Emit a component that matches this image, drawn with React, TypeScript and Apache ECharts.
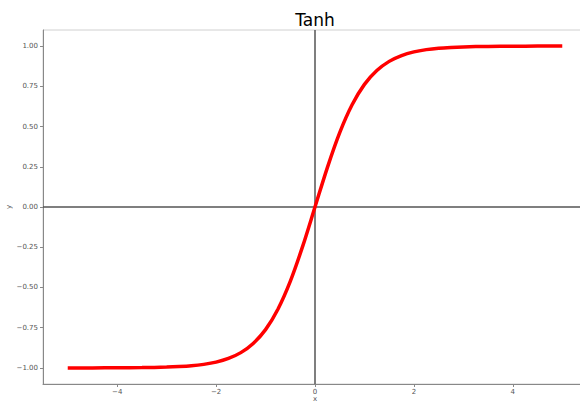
import React, { useEffect, useRef } from "react";
import * as echarts from "echarts";

const xValues = [-5, -4.5, -4, -3.5, -3, -2.75, -2.5, -2.25, -2, -1.75, -1.5, -1.25, -1, -0.75, -0.5, -0.25, 0, 0.25, 0.5, 0.75, 1, 1.25, 1.5, 1.75, 2, 2.25, 2.5, 2.75, 3, 3.5, 4, 4.5, 5];
const yValues = [-1.0, -1.0, -0.999, -0.998, -0.995, -0.992, -0.987, -0.978, -0.964, -0.941, -0.905, -0.848, -0.762, -0.635, -0.462, -0.245, 0, 0.245, 0.462, 0.635, 0.762, 0.848, 0.905, 0.941, 0.964, 0.978, 0.987, 0.992, 0.995, 0.998, 0.999, 1.0, 1.0];
const xTicks = [-4, -2, 0, 2, 4];
const yTicks = [-1, -0.75, -0.5, -0.25, 0, 0.25, 0.5, 0.75, 1];

const fmt = (v: number, d: number) => {
  const s = Math.abs(v).toFixed(d);
  return v < 0 ? "\u2212" + s : s;
};

export default function App() {
  const ref = useRef<HTMLDivElement>(null);
  useEffect(() => {
    if (!ref.current) return;
    const chart = echarts.init(ref.current, undefined, { renderer: "svg" });
    const font = "DejaVu Sans";
    chart.setOption({
      animation: false,
      backgroundColor: "#ffffff",
      graphic: [
        {
          type: "text",
          x: 315,
          y: 20,
          style: {
            text: "Tanh",
            fontFamily: font,
            fontSize: 17,
            fill: "#000",
            align: "center",
            verticalAlign: "middle",
          },
        },
      ],
      grid: {
        left: 43,
        right: 1,
        top: 30,
        bottom: 17,
        show: true,
        borderColor: "#d0d0d0",
        borderWidth: 1,
        containLabel: false,
        outerBoundsMode: "none",
      },
      xAxis: {
        type: "value",
        min: -5.5,
        max: 5.5,
        name: "x",
        nameLocation: "middle",
        nameGap: 11,
        nameMoveOverlap: false,
        nameTextStyle: { fontFamily: font, fontSize: 7, color: "#555" },
        axisLine: { show: true, onZero: false, lineStyle: { color: "#888", width: 1 } },
        axisTick: { show: true, customValues: xTicks, length: 3, lineStyle: { color: "#888" } },
        axisLabel: {
          customValues: xTicks,
          formatter: (v: number) => fmt(v, 0),
          fontFamily: font,
          fontSize: 7,
          color: "#555",
          margin: 4,
        },
        splitLine: { show: false },
      },
      yAxis: {
        type: "value",
        min: -1.1,
        max: 1.1,
        name: "y",
        nameLocation: "middle",
        nameGap: 31,
        nameMoveOverlap: false,
        nameRotate: 90,
        nameTextStyle: { fontFamily: font, fontSize: 7, color: "#555" },
        axisLine: { show: true, onZero: false, lineStyle: { color: "#888", width: 1 } },
        axisTick: { show: true, customValues: yTicks, length: 3, lineStyle: { color: "#888" } },
        axisLabel: {
          customValues: yTicks,
          formatter: (v: number) => fmt(v, 2),
          fontFamily: font,
          fontSize: 7,
          color: "#555",
          margin: 5,
        },
        splitLine: { show: false },
      },
      series: [
        {
          type: "line",
          data: xValues.map((x, i) => [x, yValues[i]]),
          showSymbol: false,
          smooth: 0.3,
          lineStyle: { color: "#ff0000", width: 3.5 },
          z: 3,
          markLine: {
            silent: true,
            symbol: ["none", "none"],
            label: { show: false },
            lineStyle: { color: "#555", width: 1.5, type: "solid" },
            data: [{ xAxis: 0 }, { yAxis: 0 }],
            z: 2,
          },
        },
      ],
    });
    return () => chart.dispose();
  }, []);
  return (
    <div style={{ position: "fixed", left: 0, top: 0, width: 580, height: 401, overflow: "hidden", background: "#fff" }}>
      <div ref={ref} style={{ width: 588, height: 401 }} />
    </div>
  );
}
